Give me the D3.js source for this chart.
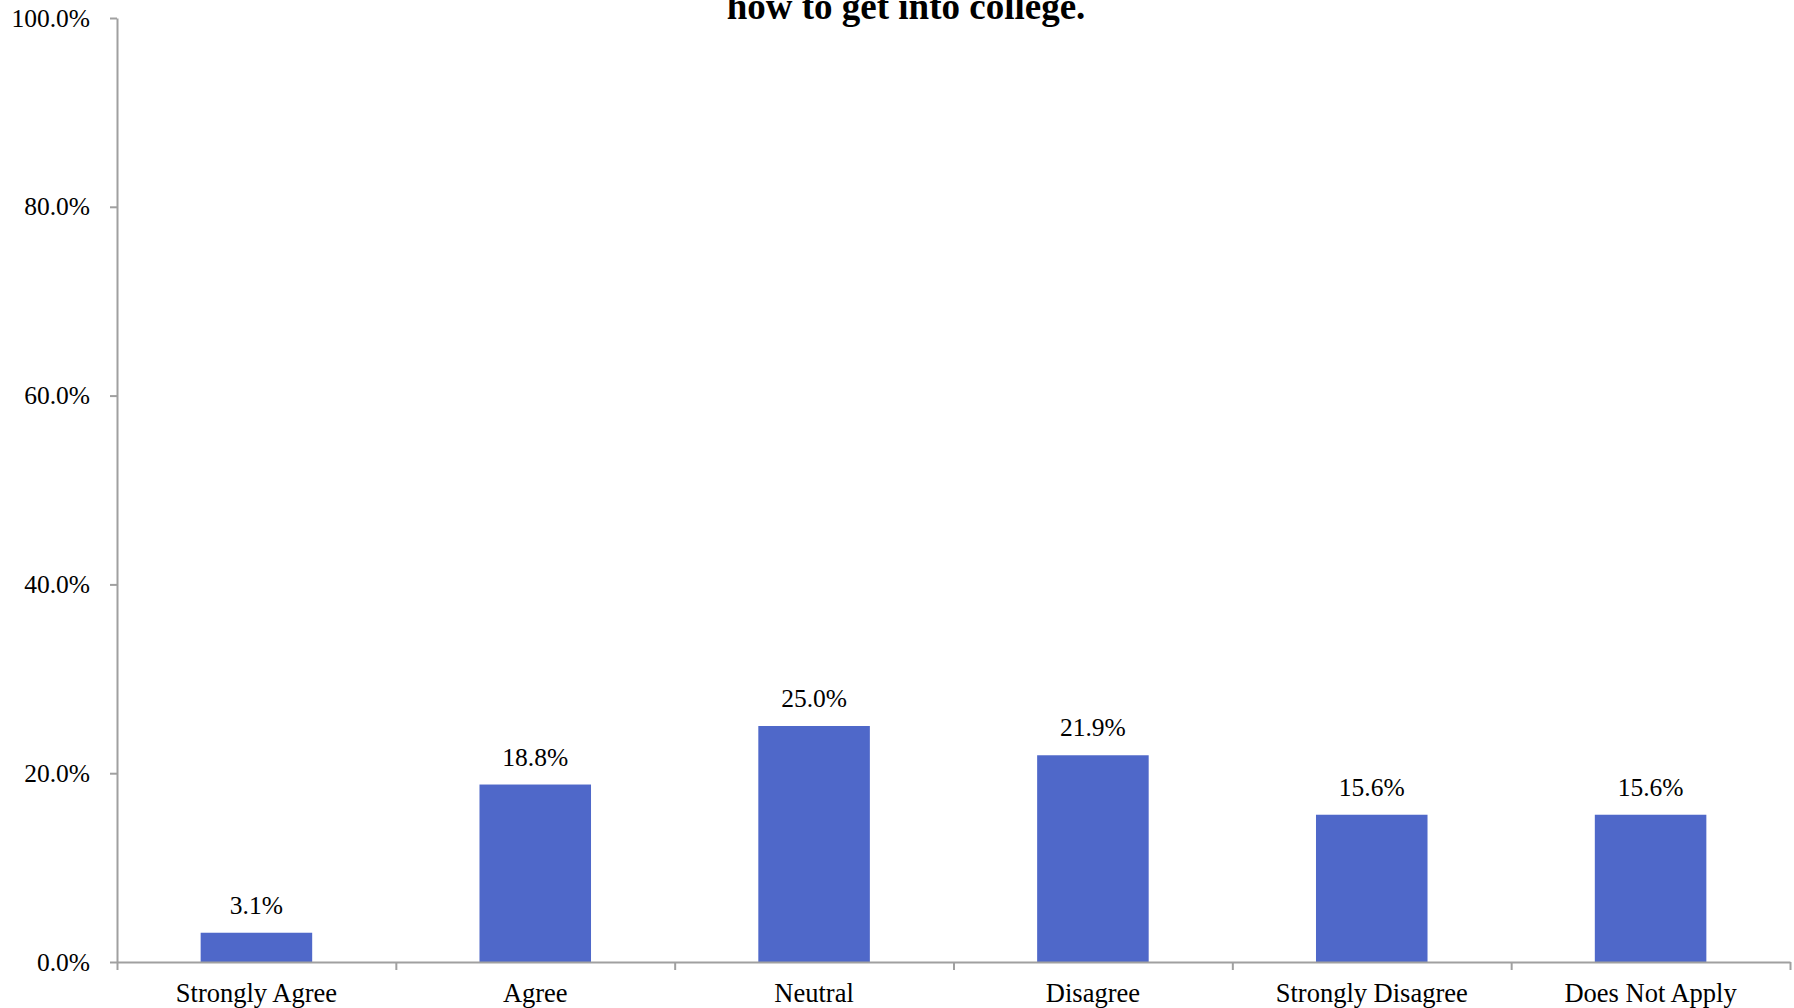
<!DOCTYPE html>
<html>
<head>
<meta charset="utf-8">
<script src="https://cdn.jsdelivr.net/npm/d3@7"></script>
<style>
  html, body { margin: 0; padding: 0; background: #ffffff; }
  svg { display: block; }
</style>
</head>
<body>
<svg id="chart" width="1794" height="1008"></svg>
<script>
const categories = ["Strongly Agree", "Agree", "Neutral", "Disagree", "Strongly Disagree", "Does Not Apply"];
const values = [3.1, 18.8, 25.0, 21.9, 15.6, 15.6];
const yTicks = [0, 20, 40, 60, 80, 100];
const titleText = "how to get into college.";

(function () {
const plotLeft = 117, plotRight = 1790, plotTop = 18, plotBottom = 962;
const serif = "'Liberation Serif', 'Times New Roman', Times, serif";
const axisColor = "#a0a0a0";
const barColor = "#4f68c9";

const svg = d3.select("#chart");

const x = d3.scaleBand().domain(categories).range([plotLeft, plotRight]).paddingInner(0.6).paddingOuter(0.3);
const y = d3.scaleLinear().domain([0, 100]).range([plotBottom, plotTop]);
const xb = d3.scaleLinear().domain([0, categories.length]).range([plotLeft, plotRight]);

// Bars
svg.append("g").selectAll("rect").data(values).join("rect")
  .attr("x", (d, i) => x(categories[i]))
  .attr("y", d => y(d))
  .attr("width", x.bandwidth())
  .attr("height", d => y(0) - y(d))
  .attr("fill", barColor);

// Value labels
svg.append("g").selectAll("text").data(values).join("text")
  .attr("x", (d, i) => x(categories[i]) + x.bandwidth() / 2)
  .attr("y", d => y(d) - 19)
  .attr("text-anchor", "middle")
  .attr("font-family", serif)
  .attr("font-size", 25.5)
  .attr("fill", "#000")
  .text(d => d.toFixed(1) + "%");

// Y axis
const yAxis = svg.append("g").attr("transform", `translate(${plotLeft},0)`)
  .call(d3.axisLeft(y).tickValues(yTicks).tickFormat(d => d.toFixed(1) + "%").tickSize(7).tickSizeOuter(0).tickPadding(20));
yAxis.select(".domain").attr("stroke", axisColor).attr("stroke-width", 2);
yAxis.selectAll(".tick line").attr("stroke", axisColor).attr("stroke-width", 2);
yAxis.selectAll(".tick text").attr("font-family", serif).attr("font-size", 25.5).attr("fill", "#000");

// X axis boundary ticks
const xAxis = svg.append("g").attr("transform", `translate(0,${plotBottom})`)
  .call(d3.axisBottom(xb).tickValues(d3.range(categories.length + 1)).tickFormat("").tickSize(8).tickSizeOuter(0));
xAxis.select(".domain").attr("stroke", axisColor).attr("stroke-width", 2);
xAxis.selectAll(".tick line").attr("stroke", axisColor).attr("stroke-width", 2);

// Category labels
const xLab = svg.append("g").attr("transform", `translate(0,${plotBottom})`)
  .call(d3.axisBottom(x).tickSize(0).tickPadding(21));
xLab.select(".domain").remove();
xLab.selectAll(".tick text").attr("font-family", serif).attr("font-size", 26.5).attr("fill", "#000");

// Title (visible second line)
svg.append("text")
  .attr("x", 906)
  .attr("y", 19)
  .attr("text-anchor", "middle")
  .attr("font-family", serif)
  .attr("font-weight", "bold")
  .attr("font-size", 37)
  .attr("fill", "#000")
  .text(titleText);
})();
</script>
</body>
</html>
